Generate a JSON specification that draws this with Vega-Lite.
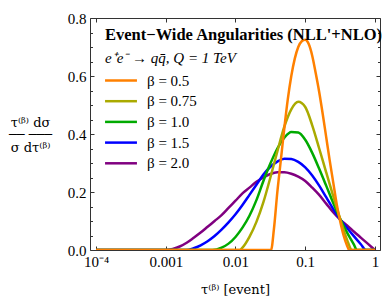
{
  "$schema": "https://vega.github.io/schema/vega-lite/v6.json",
  "autosize": {"type": "none"},
  "padding": {"left": 90, "top": 18, "right": 2, "bottom": 48},
  "width": 290,
  "height": 232,
  "background": "white",
  "title": {
    "text": "Event−Wide Angularities (NLL'+NLO)",
    "subtitle": "e⁺e⁻ → qq̄, Q = 1 TeV",
    "anchor": "start",
    "frame": "group",
    "orient": "top",
    "dx": 15,
    "dy": 59,
    "font": "Liberation Serif",
    "fontSize": 16.5,
    "fontWeight": "bold",
    "color": "black",
    "subtitleFont": "Liberation Serif",
    "subtitleFontSize": 15,
    "subtitleFontStyle": "italic",
    "subtitleColor": "black",
    "subtitlePadding": 8
  },
  "config": {
    "view": {"stroke": null},
    "axis": {
      "labelFont": "Liberation Serif",
      "labelFontSize": 15,
      "labelColor": "black",
      "titleFont": "DejaVu Serif",
      "titleFontSize": 13,
      "titleFontWeight": "normal",
      "titleColor": "black",
      "domainColor": "#333",
      "tickColor": "#333",
      "grid": false
    },
    "legend": {
      "labelFont": "Liberation Serif",
      "labelFontSize": 15,
      "labelColor": "black"
    }
  },
  "data": {
    "values": [
      {"beta": "2.0", "tau": 0.0001, "y": 0},
      {"beta": "2.0", "tau": 0.001, "y": 0},
      {"beta": "2.0", "tau": 0.0012589, "y": 0.004},
      {"beta": "2.0", "tau": 0.0015849, "y": 0.012},
      {"beta": "2.0", "tau": 0.0019953, "y": 0.025},
      {"beta": "2.0", "tau": 0.0025119, "y": 0.042},
      {"beta": "2.0", "tau": 0.0031623, "y": 0.06},
      {"beta": "2.0", "tau": 0.0039811, "y": 0.08},
      {"beta": "2.0", "tau": 0.0050119, "y": 0.1},
      {"beta": "2.0", "tau": 0.0063096, "y": 0.12},
      {"beta": "2.0", "tau": 0.0079433, "y": 0.145},
      {"beta": "2.0", "tau": 0.01, "y": 0.17},
      {"beta": "2.0", "tau": 0.012589, "y": 0.195},
      {"beta": "2.0", "tau": 0.015849, "y": 0.215},
      {"beta": "2.0", "tau": 0.019953, "y": 0.235},
      {"beta": "2.0", "tau": 0.025119, "y": 0.25},
      {"beta": "2.0", "tau": 0.031623, "y": 0.262},
      {"beta": "2.0", "tau": 0.039811, "y": 0.268},
      {"beta": "2.0", "tau": 0.050119, "y": 0.268},
      {"beta": "2.0", "tau": 0.063096, "y": 0.263},
      {"beta": "2.0", "tau": 0.079433, "y": 0.253},
      {"beta": "2.0", "tau": 0.1, "y": 0.238},
      {"beta": "2.0", "tau": 0.12589, "y": 0.215},
      {"beta": "2.0", "tau": 0.15849, "y": 0.19},
      {"beta": "2.0", "tau": 0.19953, "y": 0.16},
      {"beta": "2.0", "tau": 0.25119, "y": 0.13},
      {"beta": "2.0", "tau": 0.31623, "y": 0.105},
      {"beta": "2.0", "tau": 0.39811, "y": 0.085},
      {"beta": "2.0", "tau": 0.50119, "y": 0.063},
      {"beta": "2.0", "tau": 0.63096, "y": 0.042},
      {"beta": "2.0", "tau": 0.79433, "y": 0.021},
      {"beta": "2.0", "tau": 1, "y": 0},

      {"beta": "1.5", "tau": 0.0001, "y": 0},
      {"beta": "1.5", "tau": 0.0019953, "y": 0},
      {"beta": "1.5", "tau": 0.0025119, "y": 0.006},
      {"beta": "1.5", "tau": 0.0031623, "y": 0.016},
      {"beta": "1.5", "tau": 0.0039811, "y": 0.03},
      {"beta": "1.5", "tau": 0.0050119, "y": 0.048},
      {"beta": "1.5", "tau": 0.0063096, "y": 0.07},
      {"beta": "1.5", "tau": 0.0079433, "y": 0.095},
      {"beta": "1.5", "tau": 0.01, "y": 0.123},
      {"beta": "1.5", "tau": 0.012589, "y": 0.155},
      {"beta": "1.5", "tau": 0.015849, "y": 0.19},
      {"beta": "1.5", "tau": 0.019953, "y": 0.225},
      {"beta": "1.5", "tau": 0.025119, "y": 0.26},
      {"beta": "1.5", "tau": 0.031623, "y": 0.287},
      {"beta": "1.5", "tau": 0.039811, "y": 0.305},
      {"beta": "1.5", "tau": 0.050119, "y": 0.315},
      {"beta": "1.5", "tau": 0.063096, "y": 0.314},
      {"beta": "1.5", "tau": 0.079433, "y": 0.304},
      {"beta": "1.5", "tau": 0.1, "y": 0.285},
      {"beta": "1.5", "tau": 0.12589, "y": 0.257},
      {"beta": "1.5", "tau": 0.15849, "y": 0.222},
      {"beta": "1.5", "tau": 0.19953, "y": 0.182},
      {"beta": "1.5", "tau": 0.25119, "y": 0.142},
      {"beta": "1.5", "tau": 0.31623, "y": 0.106},
      {"beta": "1.5", "tau": 0.39811, "y": 0.076},
      {"beta": "1.5", "tau": 0.50119, "y": 0.047},
      {"beta": "1.5", "tau": 0.63096, "y": 0.019},
      {"beta": "1.5", "tau": 0.74131, "y": 0},
      {"beta": "1.5", "tau": 1, "y": 0},

      {"beta": "1.0", "tau": 0.0001, "y": 0},
      {"beta": "1.0", "tau": 0.0046774, "y": 0},
      {"beta": "1.0", "tau": 0.0063096, "y": 0.008},
      {"beta": "1.0", "tau": 0.0079433, "y": 0.022},
      {"beta": "1.0", "tau": 0.01, "y": 0.045},
      {"beta": "1.0", "tau": 0.012589, "y": 0.077},
      {"beta": "1.0", "tau": 0.015849, "y": 0.118},
      {"beta": "1.0", "tau": 0.019953, "y": 0.172},
      {"beta": "1.0", "tau": 0.025119, "y": 0.238},
      {"beta": "1.0", "tau": 0.031623, "y": 0.298},
      {"beta": "1.0", "tau": 0.039811, "y": 0.35},
      {"beta": "1.0", "tau": 0.050119, "y": 0.387},
      {"beta": "1.0", "tau": 0.063096, "y": 0.407},
      {"beta": "1.0", "tau": 0.079433, "y": 0.405},
      {"beta": "1.0", "tau": 0.1, "y": 0.38},
      {"beta": "1.0", "tau": 0.12589, "y": 0.335},
      {"beta": "1.0", "tau": 0.15849, "y": 0.28},
      {"beta": "1.0", "tau": 0.19953, "y": 0.222},
      {"beta": "1.0", "tau": 0.25119, "y": 0.163},
      {"beta": "1.0", "tau": 0.31623, "y": 0.108},
      {"beta": "1.0", "tau": 0.39811, "y": 0.06},
      {"beta": "1.0", "tau": 0.50119, "y": 0.018},
      {"beta": "1.0", "tau": 0.54954, "y": 0},
      {"beta": "1.0", "tau": 1, "y": 0},

      {"beta": "0.75", "tau": 0.0001, "y": 0},
      {"beta": "0.75", "tau": 0.011482, "y": 0},
      {"beta": "0.75", "tau": 0.012589, "y": 0.008},
      {"beta": "0.75", "tau": 0.015849, "y": 0.045},
      {"beta": "0.75", "tau": 0.019953, "y": 0.097},
      {"beta": "0.75", "tau": 0.025119, "y": 0.165},
      {"beta": "0.75", "tau": 0.031623, "y": 0.25},
      {"beta": "0.75", "tau": 0.039811, "y": 0.34},
      {"beta": "0.75", "tau": 0.050119, "y": 0.425},
      {"beta": "0.75", "tau": 0.063096, "y": 0.485},
      {"beta": "0.75", "tau": 0.079433, "y": 0.511},
      {"beta": "0.75", "tau": 0.1, "y": 0.493},
      {"beta": "0.75", "tau": 0.12589, "y": 0.43},
      {"beta": "0.75", "tau": 0.15849, "y": 0.35},
      {"beta": "0.75", "tau": 0.19953, "y": 0.268},
      {"beta": "0.75", "tau": 0.25119, "y": 0.187},
      {"beta": "0.75", "tau": 0.31623, "y": 0.108},
      {"beta": "0.75", "tau": 0.39811, "y": 0.035},
      {"beta": "0.75", "tau": 0.46774, "y": 0},
      {"beta": "0.75", "tau": 1, "y": 0},

      {"beta": "0.5", "tau": 0.0001, "y": 0},
      {"beta": "0.5", "tau": 0.032359, "y": 0},
      {"beta": "0.5", "tau": 0.035481, "y": 0.07},
      {"beta": "0.5", "tau": 0.039811, "y": 0.2},
      {"beta": "0.5", "tau": 0.044668, "y": 0.31},
      {"beta": "0.5", "tau": 0.050119, "y": 0.42},
      {"beta": "0.5", "tau": 0.056234, "y": 0.52},
      {"beta": "0.5", "tau": 0.063096, "y": 0.6},
      {"beta": "0.5", "tau": 0.070795, "y": 0.66},
      {"beta": "0.5", "tau": 0.079433, "y": 0.7},
      {"beta": "0.5", "tau": 0.089125, "y": 0.72},
      {"beta": "0.5", "tau": 0.1, "y": 0.725},
      {"beta": "0.5", "tau": 0.1122, "y": 0.71},
      {"beta": "0.5", "tau": 0.12589, "y": 0.67},
      {"beta": "0.5", "tau": 0.14125, "y": 0.61},
      {"beta": "0.5", "tau": 0.15849, "y": 0.545},
      {"beta": "0.5", "tau": 0.17783, "y": 0.47},
      {"beta": "0.5", "tau": 0.19953, "y": 0.39},
      {"beta": "0.5", "tau": 0.22387, "y": 0.31},
      {"beta": "0.5", "tau": 0.25119, "y": 0.235},
      {"beta": "0.5", "tau": 0.28184, "y": 0.16},
      {"beta": "0.5", "tau": 0.31623, "y": 0.1},
      {"beta": "0.5", "tau": 0.35481, "y": 0.05},
      {"beta": "0.5", "tau": 0.39811, "y": 0.015},
      {"beta": "0.5", "tau": 0.42658, "y": 0},
      {"beta": "0.5", "tau": 1, "y": 0}
    ]
  },
  "encoding": {
    "x": {"field": "tau", "type": "quantitative", "scale": {"type": "log", "domain": [0.000082, 1.18], "nice": false}},
    "y": {"field": "y", "type": "quantitative", "scale": {"domain": [0, 0.8], "nice": false, "zero": false}}
  },
  "layer": [
    {
      "mark": {"type": "point", "opacity": 0},
      "encoding": {
        "x": {"field": "tau", "type": "quantitative", "axis": {"orient": "top", "values": [0.0001, 0.001, 0.01, 0.1, 1], "labels": false, "tickSize": -4, "title": null}},
        "y": {"field": "y", "type": "quantitative", "axis": {"orient": "right", "values": [0, 0.2, 0.4, 0.6, 0.8], "labels": false, "tickSize": -4, "title": null}}
      }
    },
    {
      "mark": {"type": "point", "opacity": 0},
      "encoding": {
        "x": {"field": "tau", "type": "quantitative", "axis": null},
        "y": {"field": "y", "type": "quantitative", "axis": {"orient": "left", "values": [0.05, 0.1, 0.15, 0.25, 0.3, 0.35, 0.45, 0.5, 0.55, 0.65, 0.7, 0.75], "labels": false, "domain": false, "tickSize": -2.5, "title": null}}
      }
    },
    {
      "mark": {"type": "point", "opacity": 0},
      "encoding": {
        "x": {"field": "tau", "type": "quantitative", "axis": null},
        "y": {"field": "y", "type": "quantitative", "axis": {"orient": "right", "values": [0.05, 0.1, 0.15, 0.25, 0.3, 0.35, 0.45, 0.5, 0.55, 0.65, 0.7, 0.75], "labels": false, "domain": false, "tickSize": -2.5, "title": null}}
      }
    },
    {
      "mark": {"type": "line", "strokeWidth": 2.5, "interpolate": "monotone", "clip": true},
      "encoding": {
        "x": {
          "field": "tau", "type": "quantitative",
          "axis": {
            "orient": "bottom",
            "values": [0.0001, 0.001, 0.01, 0.1, 1],
            "labelExpr": "datum.value < 0.0005 ? '10⁻⁴' : format(datum.value, '~g')",
            "tickSize": -4,
            "labelPadding": 8,
            "title": "τ⁽ᵝ⁾ [event]",
            "titlePadding": 14
          }
        },
        "y": {
          "field": "y", "type": "quantitative",
          "axis": {
            "orient": "left",
            "values": [0, 0.2, 0.4, 0.6, 0.8],
            "format": ".1f",
            "tickSize": -4,
            "labelPadding": 8,
            "title": ["τ⁽ᵝ⁾   dσ", "──   ───", "σ    dτ⁽ᵝ⁾"],
            "titleAngle": 0,
            "titleAlign": "center",
            "titleBaseline": "top",
            "titleLineHeight": 12.5,
            "titleX": -60,
            "titleY": 98
          }
        },
        "color": {
          "field": "beta", "type": "nominal",
          "sort": ["0.5", "0.75", "1.0", "1.5", "2.0"],
          "scale": {"domain": ["0.5", "0.75", "1.0", "1.5", "2.0"], "range": ["#FF8000", "#AAAA00", "#00AA00", "#0000FF", "#800080"]},
          "legend": {
            "orient": "none",
            "legendX": 40,
            "legendY": 55,
            "title": null,
            "padding": 0,
            "symbolType": "M-5.9,0H-0.1",
            "symbolSize": 121,
            "symbolStrokeWidth": 2.5,
            "symbolFillColor": "transparent",
            "labelOffset": 2,
            "rowPadding": 4.7,
            "labelExpr": "'β = ' + datum.label"
          }
        },
        "order": {"field": "tau", "type": "quantitative"}
      }
    }
  ],
  "resolve": {"axis": {"x": "independent", "y": "independent"}}
}
